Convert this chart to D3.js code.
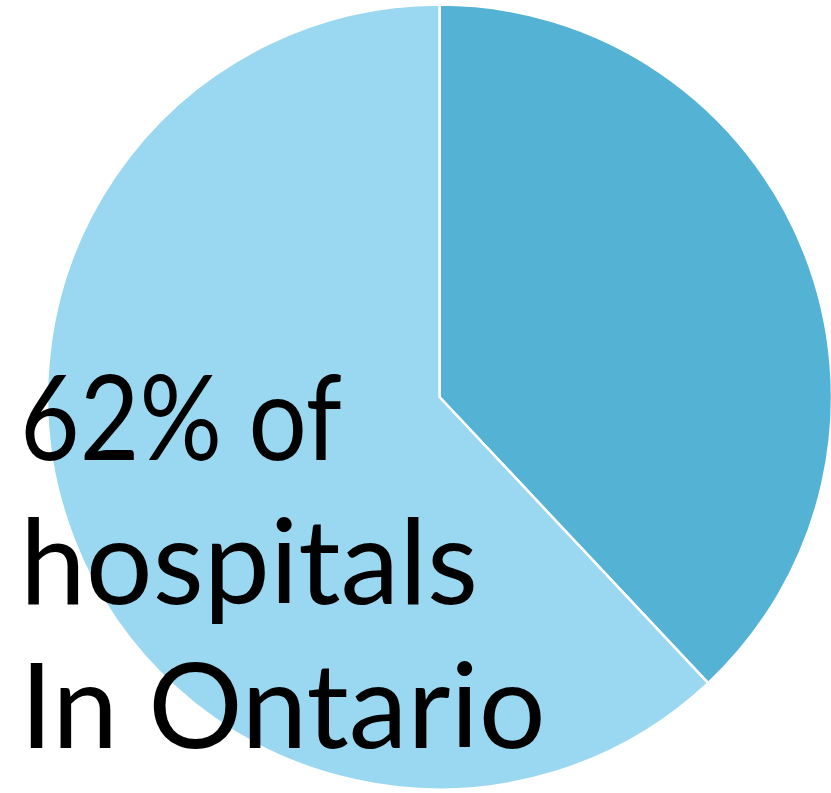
<!DOCTYPE html>
<html><head><meta charset="utf-8">
<script src="https://cdn.jsdelivr.net/npm/d3@7"></script>
<style>html,body{margin:0;padding:0;background:#fff;overflow:hidden}</style>
</head><body>
<svg id="c" width="831" height="793"></svg>
<script>
const categories = ["Other", "Ontario"];
const values = [38, 62];
const colors = ["#54B2D4", "#9AD8F2"];
const labelLines = ["62% of", "hospitals", "In Ontario"];

const svg = d3.select("#c");
const cx = 439.5, cy = 397, r = 392.5;
const pie = d3.pie().sort(null).value(d => d.v);
const arc = d3.arc().innerRadius(0).outerRadius(r);
const data = categories.map((c, i) => ({c, v: values[i], col: colors[i]}));
const g = svg.append("g").attr("transform", `translate(${cx},${cy})`);
g.selectAll("path").data(pie(data)).join("path")
  .attr("d", arc).attr("fill", d => d.data.col)
  .attr("stroke", "#fff").attr("stroke-width", 2.5).attr("stroke-linejoin", "round");

const lens = [322, null, null];
labelLines.forEach((l, i) => {
  const tx = svg.append("text").attr("font-family", "Lato, sans-serif")
    .attr("font-size", 118).attr("fill", "#000")
    .attr("x", 20).attr("y", 460 + i * 144).text(l);
  if (lens[i]) tx.attr("textLength", lens[i]).attr("lengthAdjust", "spacingAndGlyphs");
});
</script>
</body></html>
